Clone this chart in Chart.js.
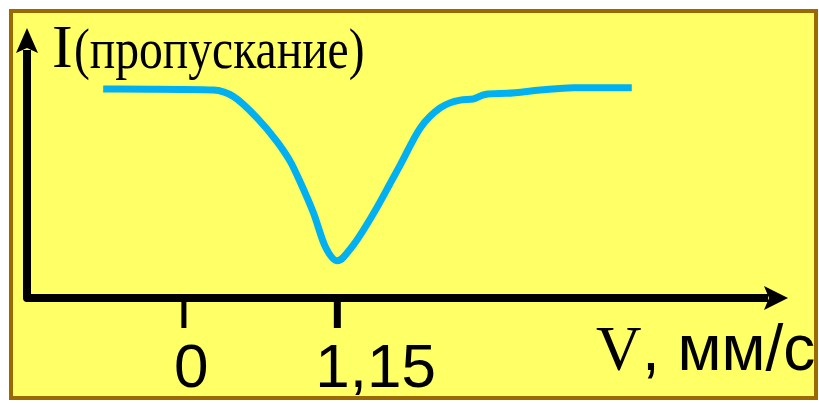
<!DOCTYPE html>
<html>
<head>
<meta charset="utf-8">
<script src="https://cdn.jsdelivr.net/npm/chart.js@4/dist/chart.umd.min.js"></script>
<style>
  html, body { margin: 0; padding: 0; background: #ffffff; }
  #wrap { width: 819px; height: 403px; }
</style>
</head>
<body>
<div id="wrap"><canvas id="c" width="819" height="403"></canvas></div>
<script>
// Mössbauer-type transmission line: intensity vs velocity
const velocity = [-0.605, -0.251, 0.221, 0.371, 0.548, 0.698, 0.798, 0.865, 0.972, 1.060, 1.15,
                  1.260, 1.422, 1.560, 1.622, 1.772, 1.921, 2.071, 2.169, 2.258, 2.421, 2.670, 2.918, 3.357];
const transmission = [77.4, 77.3, 77.0, 74.6, 66.7, 57.9, 50.5, 43.7, 31.4, 19.0, 13.8,
                      19.0, 31.4, 43.7, 49.3, 63.0, 70.4, 73.3, 73.7, 75.4, 75.8, 77.0, 77.9, 77.9];
const tickValues = [0, 1.15];
const tickLabels = ['0', '1,15'];
const yTitleMain = 'I';
const yTitleSub = '(пропускание)';
const xTitleMain = 'V';
const xTitleUnit = ', мм/с';

const YELLOW = '#FFFF66';
const FRAME = '#9A6A00';
const LINE = '#00B0F0';

const framePlugin = {
  id: 'frame',
  beforeDraw(chart) {
    const ctx = chart.ctx;
    ctx.save();
    ctx.fillStyle = '#ffffff';
    ctx.fillRect(0, 0, chart.width, chart.height);
    ctx.fillStyle = YELLOW;
    ctx.fillRect(11, 11, 805, 387);
    ctx.strokeStyle = FRAME;
    ctx.lineWidth = 4;
    ctx.strokeRect(11, 11, 805, 387);
    ctx.restore();
  }
};

const axesPlugin = {
  id: 'arrowAxes',
  afterDatasetsDraw(chart) {
    const ctx = chart.ctx;
    const a = chart.chartArea;
    const xs = chart.scales.x;
    ctx.save();
    ctx.strokeStyle = '#000';
    ctx.fillStyle = '#000';
    ctx.lineWidth = 8;
    ctx.lineJoin = 'round';
    ctx.lineCap = 'butt';
    // axis lines
    ctx.beginPath();
    ctx.moveTo(a.left, a.top + 22);
    ctx.lineTo(a.left, a.bottom);
    ctx.lineTo(a.right - 20, a.bottom);
    ctx.stroke();
    // arrow heads
    ctx.beginPath();
    ctx.moveTo(a.left, a.top);
    ctx.lineTo(a.left - 11, a.top + 25);
    ctx.lineTo(a.left, a.top + 20);
    ctx.lineTo(a.left + 11, a.top + 25);
    ctx.closePath();
    ctx.fill();
    ctx.beginPath();
    ctx.moveTo(a.right, a.bottom);
    ctx.lineTo(a.right - 24, a.bottom - 12);
    ctx.lineTo(a.right - 19, a.bottom);
    ctx.lineTo(a.right - 24, a.bottom + 12);
    ctx.closePath();
    ctx.fill();
    // tick marks
    const tickW = [5, 7];
    tickValues.forEach((v, i) => {
      const px = xs.getPixelForValue(v);
      ctx.fillRect(px - tickW[i] / 2, a.bottom, tickW[i], 30);
    });
    // tick labels
    ctx.font = '62px "Liberation Sans", Arial, sans-serif';
    ctx.textBaseline = 'alphabetic';
    ctx.textAlign = 'left';
    const shift = [-10, -22];
    tickValues.forEach((v, i) => {
      const px = xs.getPixelForValue(v);
      ctx.fillText(tickLabels[i], px + shift[i], 387);
    });
    // axis titles
    ctx.font = '63px "Liberation Serif", "Times New Roman", serif';
    ctx.fillText(xTitleMain, 596, 370);
    ctx.font = '64px "Liberation Sans", Arial, sans-serif';
    ctx.fillText(xTitleUnit, 642, 370);
    ctx.font = '62px "Liberation Serif", "Times New Roman", serif';
    ctx.fillText(yTitleMain, 52, 67);
    // condensed serif subtitle
    ctx.save();
    ctx.translate(74, 68);
    ctx.scale(0.82, 1);
    ctx.font = '58px "Liberation Serif", "Times New Roman", serif';
    ctx.fillText(yTitleSub, 0, 0);
    ctx.restore();
    ctx.restore();
  }
};

new Chart(document.getElementById('c'), {
  type: 'line',
  data: {
    datasets: [{
      data: velocity.map((v, i) => ({ x: v, y: transmission[i] })),
      borderColor: LINE,
      borderWidth: 7,
      borderCapStyle: 'butt',
      borderJoinStyle: 'round',
      cubicInterpolationMode: 'monotone',
      pointRadius: 0,
      fill: false
    }]
  },
  options: {
    responsive: false,
    animation: false,
    layout: { padding: { left: 27, top: 28, right: 31, bottom: 105 } },
    plugins: { legend: { display: false }, tooltip: { enabled: false } },
    scales: {
      x: { type: 'linear', display: false, min: -1.176, max: 4.528 },
      y: { type: 'linear', display: false, min: 0, max: 100 }
    }
  },
  plugins: [framePlugin, axesPlugin]
});
</script>
</body>
</html>
